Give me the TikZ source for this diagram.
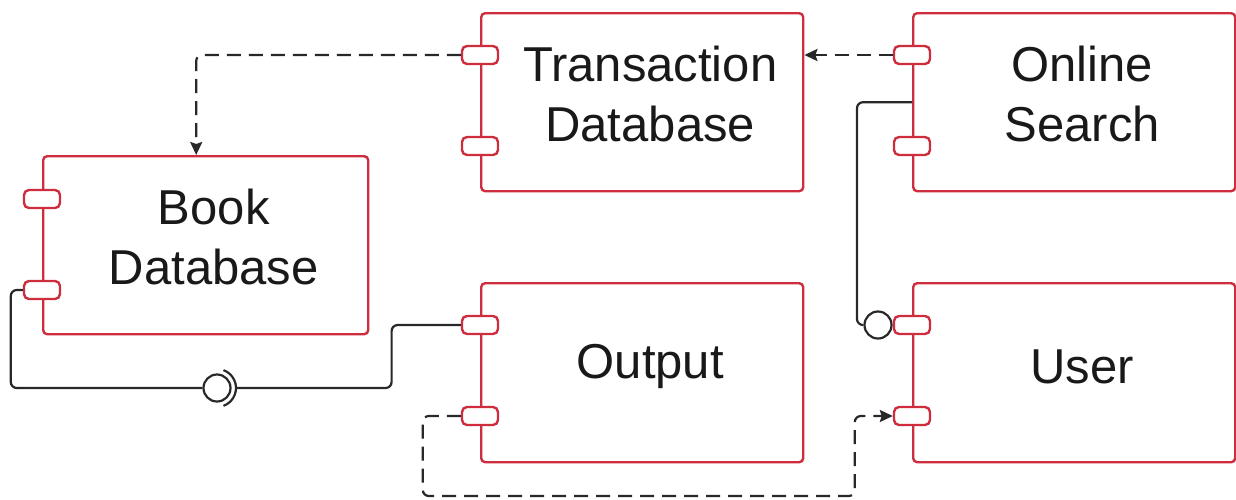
\documentclass[tikz,border=0pt]{standalone}
\usepackage{fontspec}
\setmainfont{Liberation Sans}
\usetikzlibrary{arrows.meta,positioning}
\definecolor{compred}{RGB}{205,45,60}
\definecolor{wiregray}{RGB}{40,40,40}

\begin{document}
\begin{tikzpicture}[x=1pt,y=-1pt,
  comp/.style={draw=compred,line width=2.4pt,rounded corners=4pt,anchor=north west,minimum width=322pt,minimum height=178pt,inner sep=0pt},
  port/.style={draw=compred,fill=white,line width=2.4pt,rounded corners=5pt,minimum width=36pt,minimum height=18pt,inner sep=0pt},
  complabel/.style={align=center,font=\fontsize{49}{60}\selectfont,text=black!90},
  conn/.style={draw=wiregray,line width=2.2pt,rounded corners=6pt},
  dep/.style={conn,dash pattern=on 14pt off 8pt,-{Stealth[length=13pt,width=12pt,inset=2pt]}},
  ball/.style={draw=wiregray,fill=white,line width=2.2pt,circle,minimum size=27pt,inner sep=0pt}]

\useasboundingbox (0,0) rectangle (1236,499);

%transaction database
\node[comp] (tdb) at (480,12) {};
\node[complabel] (tdbtext) at ([xshift=8pt,yshift=8pt]tdb.center) {Transaction\\Database};
%online search
\node[comp] (srch) at (912,12) {};
\node[complabel] (srchtext) at ([xshift=8pt,yshift=8pt]srch.center) {Online\\Search};
%book database
\node[comp,minimum width=325pt] (book) at (42,155) {};
\node[complabel] (booktext) at ([xshift=8pt,yshift=8pt]book.center) {Book\\Database};
%output
\node[comp,minimum height=179pt] (outp) at (480,282) {};
\node[complabel] (outptext) at ([xshift=8pt,yshift=6pt]outp.center) {Output};
%user
\node[comp,minimum height=179pt] (user) at (912,282) {};
\node[complabel] (usertext) at ([xshift=8pt,yshift=6pt]user.center) {User};

%ports
\node[port] (tdbp1) at (480,55) {};
\node[port] (tdbp2) at (480,146) {};
\node[port] (srchp1) at (912,55) {};
\node[port] (srchp2) at (912,146) {};
\node[port] (bookp1) at (42,199) {};
\node[port] (bookp2) at (42,290) {};
\node[port] (outpp1) at (480,325) {};
\node[port] (outpp2) at (480,416) {};
\node[port] (userp1) at (912,325) {};
\node[port] (userp2) at (912,416) {};

%transaction->book
\draw[dep] (tdbp1.west) -| ([xshift=-9.5pt]book.north);
%search->transaction
\draw[dep,rounded corners=0pt] (srchp1.west) -- (tdb.east |- srchp1.west);
%search->user (ball)
\node[ball] (ball) at (878,325) {};
\draw[conn] (srch.west) -- ++(-55,0) |- (ball.west);
%book->output (ball and socket)
\node[ball] (sock) at (217,388) {};
\draw[conn] (sock.center) ++(-70:19) arc[start angle=-70,end angle=70,radius=19];
\draw[conn] (bookp2.west) -- ++(-12,0) |- (sock.west);
\draw[conn] ([xshift=5pt]sock.east) -- ++(155,0) |- (outpp1.west);
%output->user
\draw[dep] (outpp2.west) -- ++(-38,0) -- ++(0,80) -| ([xshift=-38pt]userp2.west) -- (userp2.west);

\end{tikzpicture}
\end{document}
